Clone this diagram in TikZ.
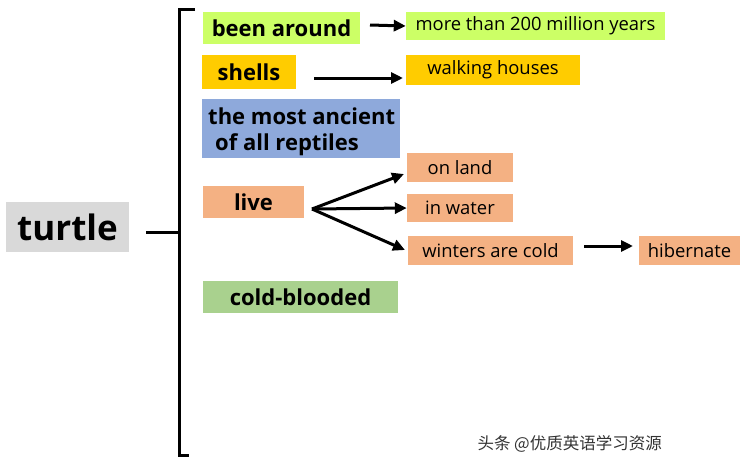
\documentclass[tikz,border=0pt]{standalone}
\usepackage{fontspec}
\setmainfont{Open Sans}
\newfontfamily\cjk{Noto Sans CJK SC}
\usetikzlibrary{arrows.meta}
\definecolor{cgreen}{HTML}{CCFF66}
\definecolor{cgold}{HTML}{FFCC00}
\definecolor{cblue}{HTML}{8EA9DB}
\definecolor{corange}{HTML}{F4B183}
\definecolor{cmint}{HTML}{A9D18E}
\definecolor{cgray}{HTML}{D9D9D9}
\tikzset{
  box/.style={rectangle, inner sep=0pt, align=center, text=black},
  lbox/.style={box, font=\fontsize{22}{25}\selectfont\bfseries},
  rbox/.style={box, font=\fontsize{18.4}{21}\selectfont},
  conn/.style={line width=3pt, -{Triangle[length=12pt,width=11pt]}},
  brk/.style={line width=3pt}
}
\begin{document}
\begin{tikzpicture}[x=1pt,y=-1pt]
\useasboundingbox (0,0) rectangle (750,467);
% root
\node[box, fill=cgray, minimum width=123, minimum height=50, font=\fontsize{35}{38}\selectfont\bfseries] (turtle) at (67.5,227) {turtle};
% bracket
\coordinate (btop) at (179,9);
\coordinate (bbot) at (179,455);
\coordinate (bmid) at (179,232);
\draw[brk] (195,9) -- (btop) -- (bbot) -- (189,455);
\draw[brk] (146,232) -- (bmid);
% left column
\node[lbox, fill=cgreen, minimum width=157, minimum height=32] (around) at (281.5,28) {been around};
\node[lbox, fill=cgold, minimum width=94, minimum height=34] (shells) at (249,72) {shells};
\node[lbox, fill=cblue, minimum width=198, minimum height=59] (ancient) at (301,128.5) {};
\node[box, anchor=base west, font=\fontsize{22}{25}\selectfont\bfseries] (anc1) at (208,124) {the most ancient};
\node[box, anchor=base west, font=\fontsize{22}{25}\selectfont\bfseries] (anc2) at (215,150) {of all reptiles};
\node[lbox, fill=corange, minimum width=101, minimum height=32] (live) at (253.5,202) {live};
\node[lbox, fill=cmint, minimum width=195, minimum height=32] (cold) at (300.5,297) {cold-blooded};
% right column
\node[rbox, fill=cgreen, minimum width=259, minimum height=28] (years) at (535.5,26) {more than 200 million years};
\node[rbox, fill=cgold, minimum width=174, minimum height=30] (houses) at (493,70) {walking houses};
\node[rbox, fill=corange, minimum width=106, minimum height=29] (land) at (460,167.5) {on land};
\node[rbox, fill=corange, minimum width=106, minimum height=28] (water) at (460,208) {in water};
\node[rbox, fill=corange, minimum width=165, minimum height=29] (winter) at (490.5,250.5) {winters are cold};
\node[rbox, fill=corange, minimum width=101, minimum height=29] (hib) at (689.5,250.5) {hibernate};
% connectors
\coordinate (livefork) at (312,209);
\coordinate (aroundout) at (370,25);
\coordinate (shellsout) at (314,78);
\coordinate (landin) at (404,174);
\coordinate (winterin) at (405,250);
\coordinate (houseend) at (403,78);
\coordinate (winterout) at (584,246);
\coordinate (hibin) at (633,246);
\draw[conn] (aroundout) -- (years.west);
\draw[conn] (shellsout) -- (houseend);
\draw[conn] (livefork) -- (landin);
\draw[conn] (livefork) -- (water.west);
\draw[conn] (livefork) -- (winterin);
\draw[conn] (winterout) -- (hibin);
% watermark
\node[anchor=west, font=\cjk\fontsize{16.5}{18}\selectfont, text=black!80] (wm) at (474,444) {头条 @优质英语学习资源};
\end{tikzpicture}
\end{document}
